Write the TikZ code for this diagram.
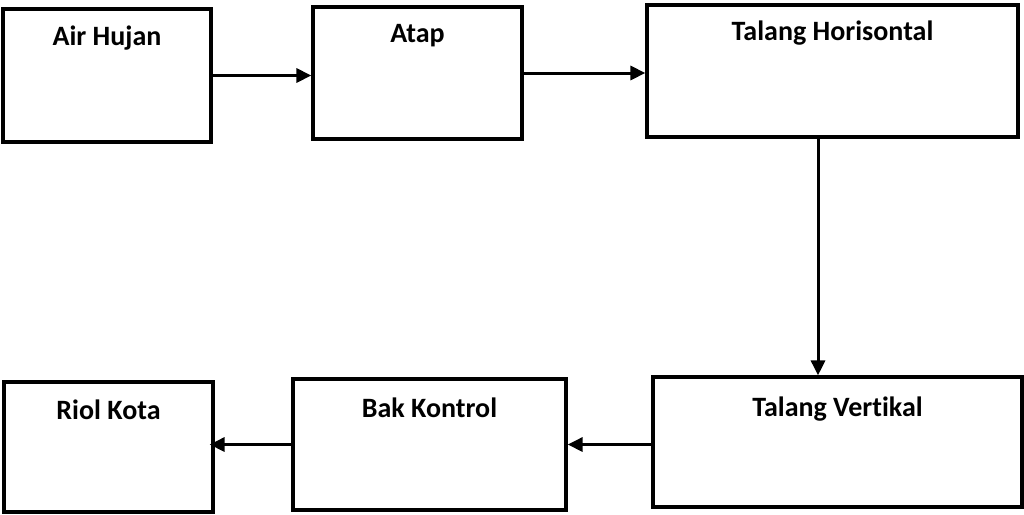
\documentclass[tikz,border=0pt]{standalone}
\usepackage{fontspec}
\setmainfont{Carlito}[Ligatures=NoCommon]
\usetikzlibrary{arrows.meta}
\tikzset{
  box/.style={draw=black, line width=3.2pt, rectangle, inner sep=0pt},
  lbl/.style={anchor=base, font=\fontsize{28}{30}\selectfont\bfseries, inner sep=0pt},
  arr/.style={draw=black, line width=3pt, -{Triangle[length=15pt,width=14pt]}}
}
\begin{document}
\begin{tikzpicture}[x=1pt,y=-1pt]
\useasboundingbox (0,0) rectangle (1024,514);
% top row
\node[box, minimum width=208pt, minimum height=133pt] (air) at (107,75.5) {};
\node[box, minimum width=209pt, minimum height=132pt] (atap) at (417.5,73) {};
\node[box, minimum width=371pt, minimum height=132pt] (th) at (832.5,71) {};
% bottom row
\node[box, minimum width=209pt, minimum height=130pt] (rk) at (108.5,447) {};
\node[box, minimum width=273pt, minimum height=131pt] (bk) at (429.5,444.5) {};
\node[box, minimum width=369pt, minimum height=130pt] (tv) at (837.5,442) {};
% labels
\node[lbl] (tair) at ([yshift=-38pt]air.north) {Air Hujan};
\node[lbl] (tatap) at ([yshift=-37pt]atap.north) {Atap};
\node[lbl] (tth) at ([yshift=-37pt]th.north) {Talang Horisontal};
\node[lbl] (ttv) at ([yshift=-41pt]tv.north) {Talang Vertikal};
\node[lbl] (tbk) at ([yshift=-40pt]bk.north) {Bak Kontrol};
\node[lbl] (trk) at ([yshift=-39pt]rk.north) {Riol Kota};
% connectors
\draw[arr] (air.east) -- (air.east -| atap.west);
\draw[arr] (atap.east) -- (atap.east -| th.west);
\draw[arr] ([xshift=-14.5pt]th.south) -- ([xshift=-19.5pt]tv.north);
\draw[arr] (bk.east -| tv.west) -- (bk.east);
\draw[arr, shorten >=-5pt] (bk.west) -- (bk.west -| rk.east);
\end{tikzpicture}
\end{document}
